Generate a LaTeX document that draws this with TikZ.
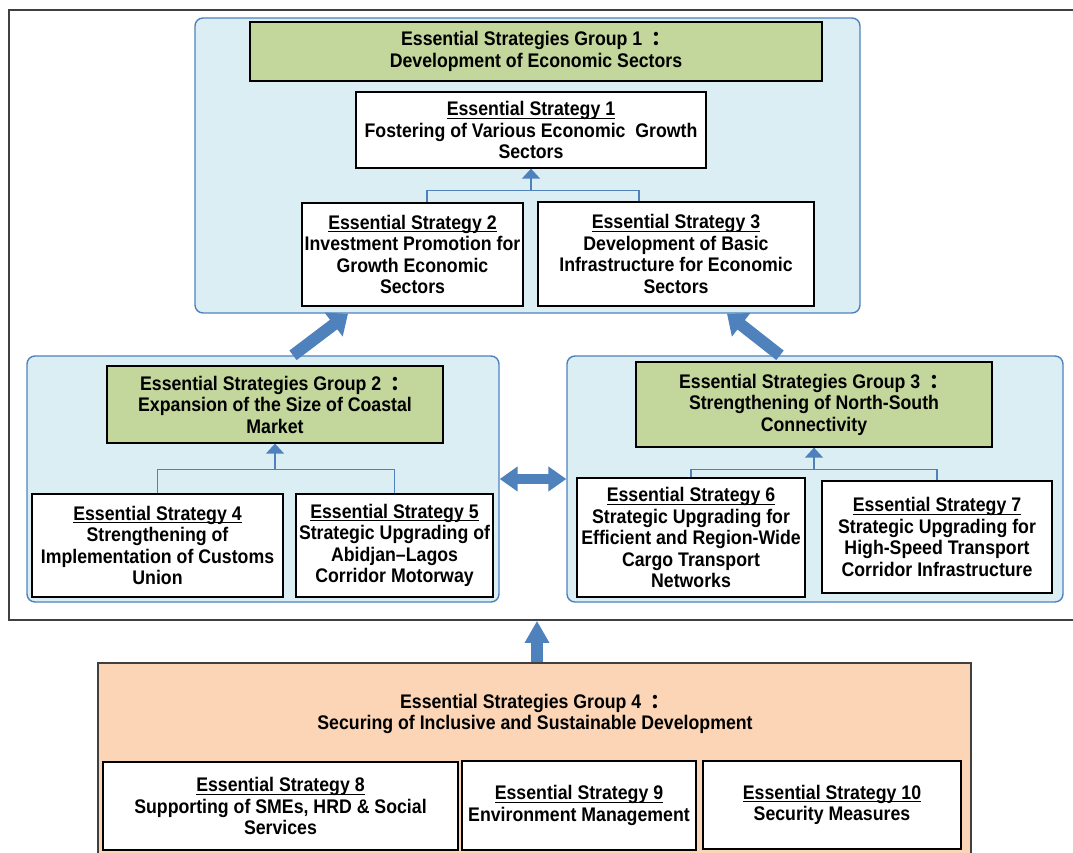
\documentclass[tikz,border=0pt]{standalone}
\usepackage{fontspec}
\setmainfont[FakeStretch=0.9]{Liberation Sans}
\newfontfamily\cjk{Noto Sans CJK SC}
\usetikzlibrary{arrows.meta, calc}

\definecolor{paleblue}{RGB}{219,238,244}
\definecolor{edgeblue}{RGB}{79,129,189}
\definecolor{titlegreen}{RGB}{195,214,155}
\definecolor{paleorange}{RGB}{251,213,181}
\definecolor{framegray}{RGB}{64,64,64}
\newcommand{\wcolon}{{\hspace{0.45em}\cjk ：}}
\newsavebox{\esbox}
\newcommand{\esul}[1]{\sbox{\esbox}{#1}\rlap{\rule[-2.2pt]{\wd\esbox}{0.75pt}}\usebox{\esbox}}

\begin{document}
\begin{tikzpicture}[x=0.025cm, y=-0.025cm, font=\bfseries\fontsize{14}{15.3}\selectfont,
    dims/.style 2 args={minimum width=#1*0.025cm, minimum height=#2*0.025cm}]
    \tikzstyle{group} = [rectangle, draw=edgeblue, fill=paleblue, line width=1pt, rounded corners=0.2cm]
    \tikzstyle{grouptitle} = [rectangle, draw=black, fill=titlegreen, line width=0.9pt, align=center, inner sep=0pt]
    \tikzstyle{strategy} = [rectangle, draw=black, fill=white, line width=0.9pt, align=center, inner sep=0pt]
    \tikzstyle{link} = [edgeblue, line width=1pt]
    \tikzstyle{linkarrow} = [link, -{Triangle[width=0.45cm,length=0.25cm]}]
    \tikzstyle{bigarrow} = [edgeblue, line width=0.3cm, -{Triangle[width=0.72cm,length=0.45cm]}]
    \tikzstyle{twoway} = [edgeblue, line width=0.26cm, {Triangle[width=0.6cm,length=0.45cm]}-{Triangle[width=0.6cm,length=0.45cm]}]
    \tikzstyle{uparrow} = [edgeblue, line width=0.32cm, -{Triangle[width=0.58cm,length=0.55cm]}]

    \useasboundingbox (0,0) rectangle (1073,853);
    \clip (0,0) rectangle (1073,853);

    \node (frame) [draw=framegray, line width=1.2pt, dims={1076}{610}] at (547,315) {};

    % Group 1
    \node (g1) [group, dims={665}{295}] at (527.5,165.5) {};
    \node (g1t) [grouptitle, dims={572}{59}] at (536,51.5) {Essential Strategies Group 1\wcolon\\Development of Economic Sectors};
    \node (es1) [strategy, dims={350}{76}] at (531,130) {\esul{Essential Strategy 1}\\Fostering of Various Economic\ \ Growth\\Sectors};
    \node (es2) [strategy, dims={221}{103}] at (412.5,254.5) {\esul{Essential Strategy 2}\\Investment Promotion for\\Growth Economic\\Sectors};
    \node (es3) [strategy, dims={276}{104}] at (676,254) {\esul{Essential Strategy 3}\\Development of Basic\\Infrastructure for Economic\\Sectors};

    % Group 2
    \node (g2) [group, dims={472}{246}] at (263,479) {};
    \node (g2t) [grouptitle, dims={336}{77}] at (275,404.5) {Essential Strategies Group 2\wcolon\\Expansion of the Size of Coastal\\Market};
    \node (es4) [strategy, dims={251}{103}] at (157.5,545.5) {\esul{Essential Strategy 4}\\Strengthening of\\Implementation of Customs\\Union};
    \node (es5) [strategy, dims={197}{103}] at (394.5,545.5) {\esul{Essential Strategy 5}\\Strategic Upgrading of\\Abidjan--Lagos\\Corridor Motorway};

    % Group 3
    \node (g3) [group, dims={496}{246}] at (815,479) {};
    \node (g3t) [grouptitle, dims={356}{85}] at (814,404.5) {Essential Strategies Group 3\wcolon\\Strengthening of North-South\\Connectivity};
    \node (es6) [strategy, dims={228}{119}] at (691,537.5) {\esul{Essential Strategy 6}\\Strategic Upgrading for\\Efficient and Region-Wide\\Cargo Transport\\Networks};
    \node (es7) [strategy, dims={230}{112}] at (937,537) {\esul{Essential Strategy 7}\\Strategic Upgrading for\\High-Speed Transport\\Corridor Infrastructure};

    % Group 4
    \node (g4) [rectangle, draw=framegray, fill=paleorange, line width=1pt, dims={873}{207}] at (534.5,766.5) {};
    \node (g4t) [align=center, inner sep=0pt] at (535,714) {Essential Strategies Group 4\wcolon\\Securing of Inclusive and Sustainable Development};
    \node (es8) [strategy, dims={355}{88}] at (280.5,806) {\esul{Essential Strategy 8}\\Supporting of SMEs, HRD \& Social\\Services};
    \node (es9) [strategy, dims={234}{89}] at (579,805.5) {\esul{Essential Strategy 9}\\Environment Management};
    \node (es10) [strategy, dims={258}{88}] at (832,805) {\esul{Essential Strategy 10}\\Security Measures};

    % Links inside the groups
    \coordinate (j1) at ($(es1.south)+(0,22)$);
    \draw [link] ($(es2.north)+(14.5,0)$) |- (j1) -| ($(es3.north)+(-37,0)$);
    \draw [linkarrow] (j1) -- (es1.south);
    \coordinate (j2) at ($(g2t.south)+(0,26)$);
    \draw [link] (es4.north) |- (j2) -| (es5.north);
    \draw [linkarrow] (j2) -- (g2t.south);
    \coordinate (j3) at ($(g3t.south)+(0,22)$);
    \draw [link] (es6.north) |- (j3) -| (es7.north);
    \draw [linkarrow] (j3) -- (g3t.south);

    % Arrows between groups
    \draw [bigarrow] ($(g2.north)+(30,0)$) -- ($(g1.south)+(-179.5,0)$);
    \draw [bigarrow] ($(g3.north)+(-35,0)$) -- ($(g1.south)+(199.5,0)$);
    \draw [twoway] (g2.east) -- (g3.west);
    \coordinate (up) at ($(g4.north)+(2.5,0)$);
    \draw [uparrow] (up) -- (up |- frame.south);
\end{tikzpicture}
\end{document}
